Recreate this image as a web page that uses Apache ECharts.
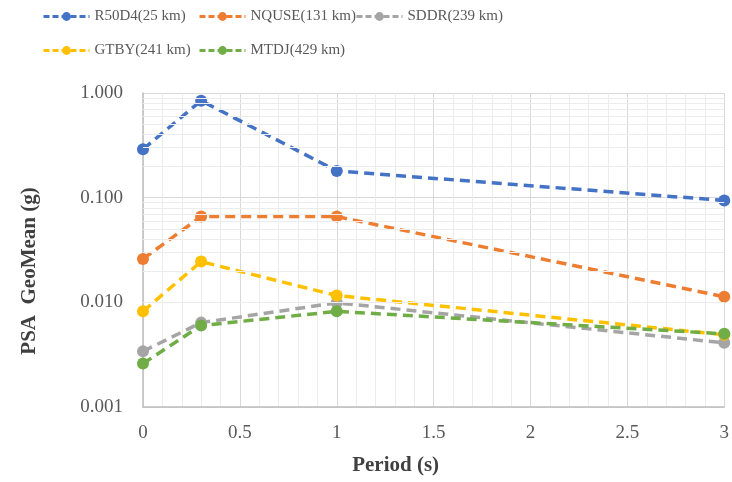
<!DOCTYPE html>
<html>
<head>
<meta charset="utf-8">
<script src="https://cdn.jsdelivr.net/npm/echarts@6/dist/echarts.min.js"></script>
<style>html,body{margin:0;padding:0;background:#fff;}#c{width:732px;height:482px;}</style>
</head>
<body>
<div id="c"></div>
<script>
const periods = [0, 0.3, 1, 3];
const seriesNames = ['R50D4(25 km)', 'NQUSE(131 km)', 'SDDR(239 km)', 'GTBY(241 km)', 'MTDJ(429 km)'];
const r50d4 = [0.29, 0.845, 0.18, 0.094];
const nquse = [0.026, 0.066, 0.066, 0.0113];
const sddr = [0.0034, 0.0064, 0.0099, 0.0041];
const gtby = [0.0082, 0.0245, 0.0116, 0.0049];
const mtdj = [0.0026, 0.0060, 0.0082, 0.0050];
const colors = ['#4472C4', '#ED7D31', '#A5A5A5', '#FFC000', '#70AD47'];
const xTicks = [0, 0.5, 1, 1.5, 2, 2.5, 3];
const yTicks = [0.001, 0.01, 0.1, 1];
const yMinorTicks = [0.002,0.003,0.004,0.005,0.006,0.007,0.008,0.009,
                     0.02,0.03,0.04,0.05,0.06,0.07,0.08,0.09,
                     0.2,0.3,0.4,0.5,0.6,0.7,0.8,0.9];

const allValues = [r50d4, nquse, sddr, gtby, mtdj];
const font = '"Liberation Serif", "Times New Roman", serif';

const series = seriesNames.map((name, i) => ({
  name: name,
  type: 'line',
  z: 3,
  data: periods.map((p, j) => [p, allValues[i][j]]),
  symbol: 'circle',
  symbolSize: 12,
  color: colors[i],
  lineStyle: { width: 3.5, type: [10, 6], color: colors[i] },
  itemStyle: { color: colors[i] }
}));

series.push({
  type: 'line',
  name: '__grid',
  data: [],
  z: 1,
  silent: true,
  markLine: {
    silent: true,
    symbol: 'none',
    label: { show: false },
    lineStyle: { color: '#ececec', width: 1, type: 'solid' },
    animation: false,
    data: yMinorTicks.map(v => ({ yAxis: v }))
  }
});

const legendBase = {
  orient: 'vertical',
  padding: 0,
  itemWidth: 46,
  itemHeight: 11,
  itemGap: 19,
  top: 9,
  lineStyle: { type: [6, 3], width: 3 },
  textStyle: { fontFamily: font, fontSize: 15, color: '#595959', lineHeight: 12 },
};

const option = {
  animation: false,
  color: colors,
  legend: [
    Object.assign({}, legendBase, { left: 42, data: [seriesNames[0], seriesNames[3]] }),
    Object.assign({}, legendBase, { left: 198, data: [seriesNames[1], seriesNames[4]] }),
    Object.assign({}, legendBase, { left: 355, data: [seriesNames[2]] })
  ],
  grid: { left: 143, right: 5, top: 93, bottom: 75, containLabel: false },
  xAxis: {
    type: 'value',
    min: xTicks[0],
    max: xTicks[xTicks.length - 1],
    interval: 0.5,
    name: 'Period (s)',
    nameLocation: 'middle',
    nameGap: 48,
    nameTextStyle: { fontFamily: font, fontSize: 21, fontWeight: 'bold', color: '#404040', padding: [0, 76, 0, 0] },
    axisLine: { show: true, lineStyle: { color: '#bfbfbf', width: 1.5 } },
    axisTick: { show: false },
    axisLabel: { fontFamily: font, fontSize: 19, color: '#595959', margin: 17 },
    splitLine: { show: true, lineStyle: { color: '#d9d9d9', width: 1 } },
    minorTick: { show: false, splitNumber: 5 },
    minorSplitLine: { show: true, lineStyle: { color: '#ececec', width: 1 } }
  },
  yAxis: {
    type: 'log',
    logBase: 10,
    min: yTicks[0],
    max: yTicks[yTicks.length - 1],
    name: 'PSA  GeoMean (g)',
    nameLocation: 'middle',
    nameGap: 103,
    nameTextStyle: { fontFamily: font, fontSize: 21, fontWeight: 'bold', color: '#404040', padding: [0, 42, 0, 0] },
    axisLine: { show: true, lineStyle: { color: '#bfbfbf', width: 1.5 } },
    axisTick: { show: false },
    axisLabel: { fontFamily: font, fontSize: 19, color: '#595959', margin: 20, formatter: v => Number(v).toFixed(3) },
    splitLine: { show: true, lineStyle: { color: '#d9d9d9', width: 1 } }
  },
  series: series
};

const chart = echarts.init(document.getElementById('c'), null, { renderer: 'canvas' });
chart.setOption(option);
</script>
</body>
</html>
